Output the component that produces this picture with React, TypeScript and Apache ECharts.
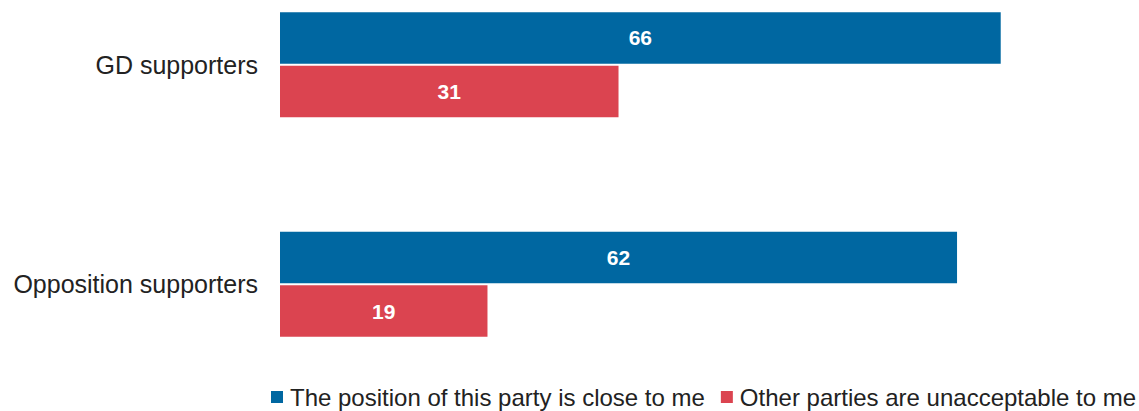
import React, { useEffect, useRef } from "react";
import * as echarts from "echarts";

const categories = ["GD supporters", "Opposition supporters"];
const seriesNames = [
  "The position of this party is close to me",
  "Other parties are unacceptable to me",
];
const closeValues = [66, 62];
const unacceptableValues = [31, 19];
const colors = ["#0067A1", "#DB4450"];

const FONT = "'Liberation Sans', Arial, Helvetica, sans-serif";

export default function App() {
  const ref = useRef<HTMLDivElement>(null);
  useEffect(() => {
    if (!ref.current) return;
    const chart = echarts.init(ref.current, null, { renderer: "svg" });
    const labelCfg = {
      show: true,
      position: "inside",
      color: "#ffffff",
      fontWeight: "bold",
      fontSize: 21,
      fontFamily: FONT,
    };
    chart.setOption({
      animation: false,
      backgroundColor: "#ffffff",
      textStyle: { fontFamily: FONT },
      grid: { left: 280, right: 94.6, top: 64.7, bottom: 126.7, containLabel: false },
      legend: {
        data: seriesNames,
        left: 271,
        top: 385,
        padding: 0,
        width: 900,
        icon: "rect",
        itemWidth: 12,
        itemHeight: 12,
        itemGap: 16,
        textStyle: { fontSize: 24, color: "#222222", fontFamily: FONT, lineHeight: 24, padding: [0, 0, 0, 2] },
      },
      xAxis: {
        type: "value",
        min: 0,
        max: 70,
        show: false,
      },
      yAxis: {
        type: "category",
        data: categories,
        inverse: true,
        boundaryGap: false,
        axisLine: { show: false },
        axisTick: { show: false },
        splitLine: { show: false },
        axisLabel: { fontSize: 25, color: "#222222", fontFamily: FONT, margin: 22 },
      },
      series: [
        {
          name: seriesNames[0],
          type: "bar",
          data: closeValues,
          barWidth: 51.5,
          barGap: "4%",
          itemStyle: { color: colors[0] },
          label: labelCfg,
        },
        {
          name: seriesNames[1],
          type: "bar",
          data: unacceptableValues,
          barWidth: 51.5,
          barGap: "4%",
          itemStyle: { color: colors[1] },
          label: labelCfg,
        },
      ],
    });
    return () => chart.dispose();
  }, []);
  return (
    <div
      ref={ref}
      style={{ position: "fixed", left: 0, top: 0, width: 1139, height: 411 }}
    />
  );
}
